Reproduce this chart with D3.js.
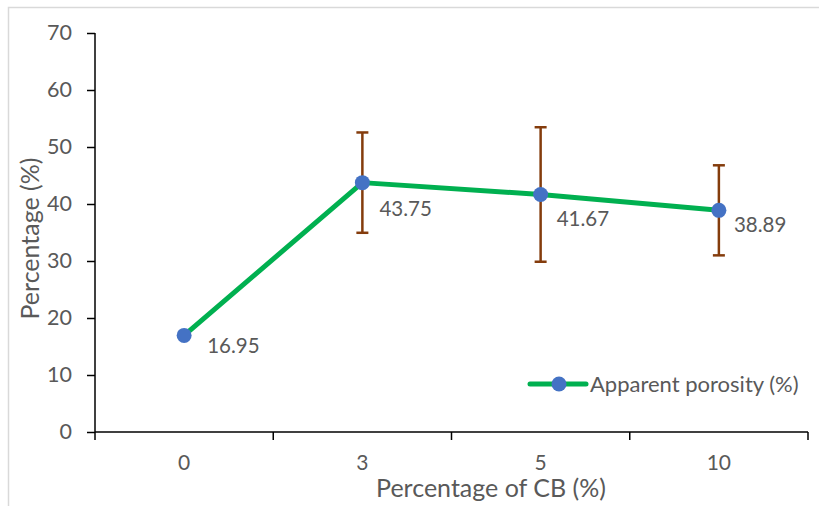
<!DOCTYPE html>
<html><head><meta charset="utf-8">
<script src="https://cdn.jsdelivr.net/npm/d3@7"></script>
<style>
body{margin:0;background:#fff;}
svg text{font-family:Lato, "Open Sans", sans-serif;fill:#595959;}
</style></head>
<body><svg id="c" width="819" height="506"></svg>
<script>
const categories = ["0","3","5","10"];
const porosity = [16.95, 43.75, 41.67, 38.89];
const errorPlus = [null, 8.8, 11.8, 7.9];
const errorMinus = [null, 8.8, 11.8, 7.9];
const yTicks = [0,10,20,30,40,50,60,70];
const seriesName = "Apparent porosity (%)";
const xTitle = "Percentage of CB (%)";
const yTitle = "Percentage (%)";
// label placement styles
const labelDx = [23, 17, 16, 15];
const labelDy = [10, 26, 24, 14];

const svg = d3.select("#c");
const L = 95, R = 808, T = 33, B = 432;
svg.append("path").attr("d","M8.5,506 V7.5 H819").attr("fill","none").attr("stroke","#d9d9d9").attr("stroke-width",1.5);

const x = d3.scaleBand().domain(categories).range([L,R]);
const y = d3.scaleLinear().domain([0,70]).range([B,T]);

// y axis
const ya = svg.append("g").attr("transform",`translate(${L},0)`)
  .call(d3.axisLeft(y).tickValues(yTicks).tickSize(8).tickPadding(15));
ya.select(".domain").attr("stroke","#000").attr("stroke-width",1.5).attr("d",`M0,${B}V${T}`);
ya.selectAll(".tick line").attr("stroke","#000").attr("stroke-width",1.5);
ya.selectAll(".tick text").attr("font-size",21.5).attr("fill","#595959").style("font-family","Lato, sans-serif");

// x axis
const xa = svg.append("g").attr("transform",`translate(0,${B})`)
  .call(d3.axisBottom(x).tickSize(0).tickPadding(23));
xa.select(".domain").attr("stroke","#000").attr("stroke-width",1.5).attr("d",`M${L},0H${R}`);
xa.selectAll(".tick text").attr("font-size",21).attr("fill","#595959").style("font-family","Lato, sans-serif");
const bounds = categories.map(c=>x(c)).concat([R]);
xa.selectAll(".bt").data(bounds).enter().append("line")
  .attr("x1",d=>d).attr("x2",d=>d).attr("y1",0).attr("y2",8)
  .attr("stroke","#000").attr("stroke-width",1.5);

const cx = c => x(c) + x.bandwidth()/2;

// line
svg.append("path").datum(porosity)
  .attr("d", d3.line().x((d,i)=>cx(categories[i])).y(d=>y(d)))
  .attr("fill","none").attr("stroke","#00B050").attr("stroke-width",5).attr("stroke-linejoin","round");

// error bars
const eb = svg.append("g").attr("stroke","#843C0C").attr("stroke-width",2.5);
porosity.forEach((v,i)=>{
  if(errorPlus[i]==null) return;
  const xx = cx(categories[i]);
  const y1 = y(v+errorPlus[i]), y2 = y(v-errorMinus[i]);
  eb.append("line").attr("x1",xx).attr("x2",xx).attr("y1",y1).attr("y2",y2);
  eb.append("line").attr("x1",xx-6).attr("x2",xx+6).attr("y1",y1).attr("y2",y1);
  eb.append("line").attr("x1",xx-6).attr("x2",xx+6).attr("y1",y2).attr("y2",y2);
});

// markers
svg.selectAll(".pt").data(porosity).enter().append("circle")
  .attr("cx",(d,i)=>cx(categories[i])).attr("cy",d=>y(d)).attr("r",7.5).attr("fill","#4472C4");

// labels
svg.selectAll(".lbl").data(porosity).enter().append("text")
  .attr("x",(d,i)=>cx(categories[i])+labelDx[i]).attr("y",(d,i)=>y(d)+labelDy[i])
  .attr("dy","0.35em").attr("font-size",20.5).attr("fill","#404040").text(d=>d.toFixed(2));

// titles
svg.append("text").attr("x",491).attr("y",497).attr("text-anchor","middle").attr("font-size",25).text(xTitle);
svg.append("text").attr("transform",`translate(39,${(T+B)/2+6}) rotate(-90)`).attr("text-anchor","middle").attr("font-size",25).text(yTitle);

// legend
const lg = svg.append("g");
lg.append("line").attr("x1",530).attr("x2",586).attr("y1",384).attr("y2",384).attr("stroke","#00B050").attr("stroke-width",5).attr("stroke-linecap","round");
lg.append("circle").attr("cx",559).attr("cy",384).attr("r",7.5).attr("fill","#4472C4");
lg.append("text").attr("x",590).attr("y",384).attr("dy","0.35em").attr("font-size",22).text(seriesName);
</script></body></html>
